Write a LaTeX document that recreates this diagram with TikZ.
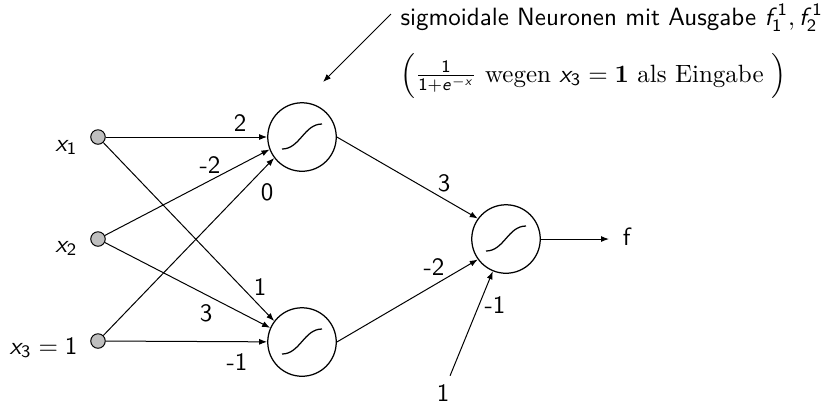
\documentclass[tikz,border=0pt]{standalone}
\usepackage{amsmath}
\usepackage{tikz}
\usetikzlibrary{arrows.meta}
\renewcommand{\familydefault}{\sfdefault}
\DeclareMathAlphabet{\mathsfit}{OT1}{cmss}{m}{sl}
\SetSymbolFont{operators}{normal}{OT1}{cmss}{m}{n}

\begin{document}
\begin{tikzpicture}[
  >={Latex[length=3.2pt,width=2.4pt]},
  x=0.4pt, y=-0.4pt,
  input/.style={circle, draw, fill=gray!50, minimum size=5.8pt, inner sep=0pt},
  neuron/.style={circle, draw, line width=0.5pt, minimum size=27.4pt, inner sep=0pt,
    path picture={\draw[line width=0.5pt] (path picture bounding box.center) ++(-8pt,-4.8pt)
      .. controls +(7.2pt,0pt) and +(-7.2pt,0pt) .. ++(16pt,10pt);}},
  wt/.style={inner sep=1pt}
]
  \useasboundingbox (0,0) rectangle (834,403);
  % Eingabeschicht
  \node[input] (x1) at (98,137) {};
  \node[input] (x2) at (98,239) {};
  \node[input] (x3) at (98,341) {};
  \node[anchor=base east, inner sep=0pt] (lx1) at (78,151) {$\mathsfit{x}_1$};
  \node[anchor=base east, inner sep=0pt] (lx2) at (78,252) {$\mathsfit{x}_2$};
  \node[anchor=base east, inner sep=0pt] (lx3) at (78,354) {$\mathsfit{x}_3=1$};
  % sigmoidale Neuronen
  \node[neuron] (h1) at (302,137) {};
  \node[neuron] (h2) at (302,342) {};
  \node[neuron] (o) at (506,239) {};
  \node[anchor=base west] (f) at (614,245) {f};
  \node (b) at (443,393) {1};
  \draw[->] (x1) -- (h1);
  \draw[->] (x1) -- (h2.143);
  \draw[->] (x2) -- (h1.201);
  \draw[->] (x2) -- (h2.156);
  \draw[->] (x3) -- (h1.217);
  \draw[->] (x3) -- (h2);
  \draw[->] (h1.east) -- (o.144);
  \draw[->] (h2.east) -- (o.216);
  \draw[->] (b) -- (o);
  \draw[->, shorten >=2pt] (o) -- (o -| f.west);
  % Gewichte
  \node[wt] (w11) at (240,123) {2};
  \node[wt] (w21) at (210,165) {-2};
  \node[wt] (w31) at (267,192) {0};
  \node[wt] (w12) at (260,287) {1};
  \node[wt] (w22) at (206,313) {3};
  \node[wt] (w32) at (237,362) {-1};
  \node[wt] (v1) at (444,183) {3};
  \node[wt] (v2) at (434,267) {-2};
  \node[wt] (v3) at (495,305) {-1};
  % Beschriftung oben
  \coordinate (ptail) at (391,14);
  \coordinate (phead) at (323,82);
  \draw[->] (ptail) -- (phead);
  \node[anchor=base west, inner sep=0pt] (cap1) at (400,25)
    {sigmoidale Neuronen mit Ausgabe $\mathsfit{f}_1^1, \mathsfit{f}_2^1$};
  \node[anchor=base west, inner sep=0pt] (cap2) at (400,82)
    {$\left(\frac{1}{1+\mathsfit{e}^{-\mathsfit{x}}}\ \textrm{wegen}\ \mathsfit{x}_3=\mathbf{1}\ \textrm{als Eingabe}\ \right)$};
\end{tikzpicture}
\end{document}
